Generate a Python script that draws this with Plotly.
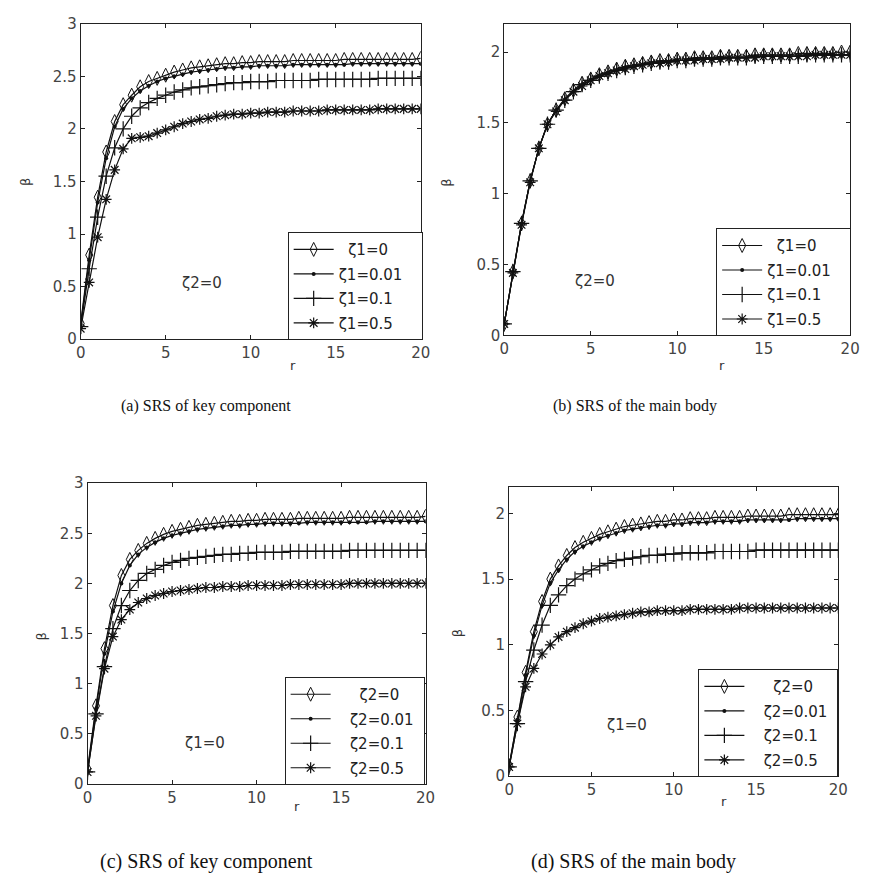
import plotly.graph_objects as go

W, H = 870, 890

r = [0.0, 0.5, 1.0, 1.5, 2.0, 2.5, 3.0, 3.5, 4.0, 4.5,
     5.0, 5.5, 6.0, 6.5, 7.0, 7.5, 8.0, 8.5, 9.0, 9.5,
     10.0, 10.5, 11.0, 11.5, 12.0, 12.5, 13.0, 13.5, 14.0, 14.5,
     15.0, 15.5, 16.0, 16.5, 17.0, 17.5, 18.0, 18.5, 19.0, 19.5,
     20.0]

# (a) SRS of key component, zeta2 = 0
a_z0 = [0.15, 0.80, 1.35, 1.78, 2.07, 2.23, 2.32, 2.40, 2.45, 2.48,
        2.51, 2.54, 2.56, 2.58, 2.59, 2.60, 2.61, 2.62, 2.62, 2.63,
        2.63, 2.64, 2.64, 2.64, 2.64, 2.65, 2.65, 2.65, 2.65, 2.65,
        2.65, 2.66, 2.66, 2.66, 2.66, 2.66, 2.66, 2.66, 2.66, 2.66,
        2.67]
a_z001 = [0.14, 0.75, 1.30, 1.72, 2.02, 2.19, 2.29, 2.36, 2.41, 2.45,
          2.48, 2.50, 2.52, 2.54, 2.55, 2.56, 2.57, 2.58, 2.58, 2.59,
          2.59, 2.60, 2.60, 2.60, 2.60, 2.61, 2.61, 2.61, 2.61, 2.61,
          2.61, 2.61, 2.62, 2.62, 2.62, 2.62, 2.62, 2.62, 2.62, 2.62,
          2.62]
a_z01 = [0.12, 0.67, 1.16, 1.55, 1.82, 2.00, 2.12, 2.20, 2.25, 2.29,
         2.32, 2.35, 2.37, 2.39, 2.40, 2.41, 2.42, 2.43, 2.44, 2.44,
         2.45, 2.45, 2.45, 2.46, 2.46, 2.46, 2.46, 2.46, 2.47, 2.47,
         2.47, 2.47, 2.47, 2.47, 2.47, 2.48, 2.48, 2.48, 2.48, 2.48,
         2.48]
a_z05 = [0.10, 0.54, 0.97, 1.33, 1.61, 1.81, 1.91, 1.92, 1.93, 1.96,
         1.99, 2.02, 2.05, 2.07, 2.09, 2.10, 2.12, 2.13, 2.14, 2.14,
         2.15, 2.15, 2.16, 2.16, 2.16, 2.17, 2.17, 2.17, 2.17, 2.18,
         2.18, 2.18, 2.18, 2.18, 2.18, 2.19, 2.19, 2.19, 2.19, 2.19,
         2.19]

# (b) SRS of the main body, zeta2 = 0
b_z0 = [0.08, 0.45, 0.79, 1.09, 1.32, 1.49, 1.59, 1.67, 1.73, 1.78,
        1.81, 1.84, 1.86, 1.88, 1.90, 1.91, 1.92, 1.93, 1.94, 1.94,
        1.95, 1.95, 1.96, 1.96, 1.96, 1.97, 1.97, 1.97, 1.97, 1.98,
        1.98, 1.98, 1.98, 1.98, 1.99, 1.99, 1.99, 1.99, 1.99, 2.00,
        2.00]
b_z001 = [0.08, 0.45, 0.79, 1.09, 1.32, 1.49, 1.59, 1.66, 1.72, 1.77,
          1.80, 1.83, 1.85, 1.87, 1.89, 1.90, 1.91, 1.92, 1.93, 1.93,
          1.94, 1.94, 1.95, 1.95, 1.95, 1.96, 1.96, 1.96, 1.96, 1.97,
          1.97, 1.97, 1.97, 1.97, 1.97, 1.98, 1.98, 1.98, 1.98, 1.98,
          1.98]
b_z01 = [0.08, 0.45, 0.79, 1.09, 1.32, 1.49, 1.59, 1.66, 1.72, 1.77,
         1.80, 1.83, 1.85, 1.87, 1.89, 1.90, 1.91, 1.92, 1.93, 1.93,
         1.94, 1.94, 1.95, 1.95, 1.95, 1.96, 1.96, 1.96, 1.96, 1.97,
         1.97, 1.97, 1.97, 1.97, 1.97, 1.98, 1.98, 1.98, 1.98, 1.98,
         1.98]
b_z05 = [0.08, 0.44, 0.78, 1.08, 1.32, 1.49, 1.58, 1.66, 1.72, 1.76,
         1.80, 1.83, 1.85, 1.87, 1.88, 1.90, 1.91, 1.92, 1.92, 1.93,
         1.94, 1.94, 1.94, 1.95, 1.95, 1.95, 1.96, 1.96, 1.96, 1.96,
         1.97, 1.97, 1.97, 1.97, 1.97, 1.97, 1.98, 1.98, 1.98, 1.98,
         1.98]

# (c) SRS of key component, zeta1 = 0
c_z0 = [0.15, 0.78, 1.35, 1.78, 2.08, 2.24, 2.33, 2.40, 2.45, 2.49,
        2.52, 2.54, 2.56, 2.58, 2.59, 2.60, 2.61, 2.62, 2.62, 2.63,
        2.63, 2.64, 2.64, 2.64, 2.64, 2.65, 2.65, 2.65, 2.65, 2.65,
        2.65, 2.66, 2.66, 2.66, 2.66, 2.66, 2.66, 2.66, 2.66, 2.66,
        2.67]
c_z001 = [0.13, 0.75, 1.30, 1.72, 2.00, 2.18, 2.29, 2.36, 2.41, 2.45,
          2.48, 2.50, 2.52, 2.54, 2.55, 2.56, 2.57, 2.58, 2.58, 2.59,
          2.59, 2.60, 2.60, 2.60, 2.60, 2.60, 2.61, 2.61, 2.61, 2.61,
          2.61, 2.61, 2.61, 2.61, 2.62, 2.62, 2.62, 2.62, 2.62, 2.62,
          2.62]
c_z01 = [0.12, 0.70, 1.17, 1.55, 1.78, 1.93, 2.03, 2.10, 2.14, 2.18,
         2.21, 2.23, 2.25, 2.26, 2.27, 2.28, 2.29, 2.29, 2.30, 2.30,
         2.31, 2.31, 2.31, 2.31, 2.32, 2.32, 2.32, 2.32, 2.32, 2.32,
         2.32, 2.33, 2.33, 2.33, 2.33, 2.33, 2.33, 2.33, 2.33, 2.33,
         2.33]
c_z05 = [0.12, 0.68, 1.15, 1.47, 1.64, 1.74, 1.81, 1.85, 1.88, 1.90,
         1.92, 1.93, 1.94, 1.95, 1.96, 1.96, 1.97, 1.97, 1.97, 1.98,
         1.98, 1.98, 1.98, 1.98, 1.99, 1.99, 1.99, 1.99, 1.99, 1.99,
         1.99, 2.00, 2.00, 2.00, 2.00, 2.00, 2.00, 2.00, 2.00, 2.00,
         2.00]

# (d) SRS of the main body, zeta1 = 0
d_z0 = [0.08, 0.45, 0.79, 1.10, 1.33, 1.50, 1.60, 1.68, 1.74, 1.78,
        1.81, 1.84, 1.86, 1.88, 1.90, 1.91, 1.92, 1.93, 1.94, 1.94,
        1.95, 1.95, 1.96, 1.96, 1.96, 1.97, 1.97, 1.97, 1.97, 1.98,
        1.98, 1.98, 1.98, 1.98, 1.99, 1.99, 1.99, 1.99, 1.99, 1.99,
        1.99]
d_z001 = [0.08, 0.43, 0.77, 1.07, 1.30, 1.47, 1.57, 1.65, 1.71, 1.75,
          1.78, 1.81, 1.83, 1.85, 1.87, 1.88, 1.89, 1.90, 1.91, 1.91,
          1.92, 1.92, 1.93, 1.93, 1.93, 1.94, 1.94, 1.94, 1.94, 1.95,
          1.95, 1.95, 1.95, 1.95, 1.95, 1.96, 1.96, 1.96, 1.96, 1.96,
          1.96]
d_z01 = [0.07, 0.40, 0.72, 0.96, 1.15, 1.30, 1.38, 1.45, 1.50, 1.54,
         1.57, 1.60, 1.62, 1.64, 1.65, 1.66, 1.67, 1.68, 1.68, 1.69,
         1.69, 1.70, 1.70, 1.70, 1.70, 1.71, 1.71, 1.71, 1.71, 1.71,
         1.72, 1.72, 1.72, 1.72, 1.72, 1.72, 1.72, 1.72, 1.72, 1.72,
         1.72]
d_z05 = [0.07, 0.40, 0.68, 0.82, 0.93, 1.00, 1.06, 1.10, 1.13, 1.16,
         1.18, 1.20, 1.21, 1.22, 1.23, 1.24, 1.25, 1.25, 1.26, 1.26,
         1.26, 1.26, 1.27, 1.27, 1.27, 1.27, 1.27, 1.27, 1.28, 1.28,
         1.28, 1.28, 1.28, 1.28, 1.28, 1.28, 1.28, 1.28, 1.28, 1.28,
         1.28]

NB = "\u00a0"
legend_a = [NB * 2 + "\u03b61=0" + NB * 6, "\u03b61=0.01" + NB * 3,
            "\u03b61=0.1" + NB * 3, "\u03b61=0.5" + NB * 3]
legend_c = [NB * 5 + "\u03b62=0", NB * 3 + "\u03b62=0.01" + NB,
            NB * 3 + "\u03b62=0.1", NB * 3 + "\u03b62=0.5"]
captions = ["(a) SRS of key component", "(b) SRS of the main body",
            "(c) SRS of key component", "(d) SRS of the main body"]
inner_labels = ["\u03b62=0", "\u03b62=0", "\u03b61=0", "\u03b61=0"]

markers = [dict(symbol="diamond-tall-open", size=10, line=dict(width=1, color="#111")),
           dict(symbol="circle", size=4, color="#111"),
           dict(symbol="cross-thin-open", size=11, line=dict(width=1.2, color="#111")),
           dict(symbol="asterisk-open", size=9, line=dict(width=1.2, color="#111"))]

panels = [
    dict(series=[a_z0, a_z001, a_z01, a_z05], names=legend_a, box=(77, 423, 15, 337), ymax=3.0,
         yt=[0, 0.5, 1, 1.5, 2, 2.5, 3], leg=(425, 338), txt=(200, 280), beta=(21, 177),
         rr=(293, 364), cap=(205, 405, 16)),
    dict(series=[b_z0, b_z001, b_z01, b_z05], names=legend_a, box=(508, 860, 15, 333), ymax=2.2,
         yt=[0, 0.5, 1, 1.5, 2], leg=(861, 334), txt=(600, 278), beta=(449, 177),
         rr=(730, 364), cap=(641, 405, 16)),
    dict(series=[c_z0, c_z001, c_z01, c_z05], names=legend_c, box=(84, 428, 484, 791), ymax=3.0,
         yt=[0, 0.5, 1, 1.5, 2, 2.5, 3], leg=(427, 792), txt=(204, 749), beta=(37, 640),
         rr=(297, 814), cap=(205, 870, 20)),
    dict(series=[d_z0, d_z001, d_z01, d_z05], names=legend_c, box=(513, 848, 488, 783), ymax=2.2,
         yt=[0, 0.5, 1, 1.5, 2], leg=(848, 784), txt=(633, 731), beta=(460, 637),
         rr=(732, 809), cap=(640, 870, 20)),
]

SANS = "DejaVu Sans, Liberation Sans, Arial, sans-serif"
fig = go.Figure()
layout = dict(width=W, height=H, margin=dict(l=0, r=0, t=0, b=0),
              paper_bgcolor="white", plot_bgcolor="white", showlegend=True)
annotations = []
tickfont = dict(family=SANS, size=15, color="#444")

for i, p in enumerate(panels):
    k = "" if i == 0 else str(i + 1)
    leg = "legend" + k
    x0, x1, y0, y1 = p["box"]
    for j, (ys, nm) in enumerate(zip(p["series"], p["names"])):
        fig.add_trace(go.Scatter(
            x=r, y=ys, mode="lines+markers", name=nm,
            line=dict(color="#111", width=1.2), marker=markers[j],
            xaxis="x" + k, yaxis="y" + k, legend=leg,
            legendgroup=f"g{i}_{j}", showlegend=True))
    common = dict(showline=True, linecolor="#222", linewidth=1, mirror="ticks",
                  ticks="inside", ticklen=4, tickcolor="#222", showgrid=False,
                  zeroline=False, tickfont=tickfont)
    layout["xaxis" + k] = dict(domain=[x0 / W, x1 / W], anchor="y" + k, range=[0, 20],
                               tickvals=[0, 5, 10, 15, 20], **common)
    layout["yaxis" + k] = dict(domain=[1 - y1 / H, 1 - y0 / H], anchor="x" + k,
                               range=[0, p["ymax"]], tickvals=p["yt"],
                               ticktext=[("%g" % v) for v in p["yt"]], **common)
    lx, ly = p["leg"]
    layout[leg] = dict(x=lx / W, y=1 - ly / H, xanchor="right", yanchor="bottom",
                       bordercolor="#222", borderwidth=1, bgcolor="white",
                       font=dict(family=SANS, size=15, color="#222"),
                       tracegroupgap=2, itemwidth=40)
    tx, ty = p["txt"]
    annotations.append(dict(x=tx / W, y=1 - ty / H, xref="paper", yref="paper",
                            xanchor="center", yanchor="middle",
                            text=inner_labels[i], showarrow=False,
                            font=dict(family=SANS, size=15, color="#333")))
    bx, by = p["beta"]
    annotations.append(dict(x=bx / W, y=1 - by / H, xref="paper", yref="paper",
                            xanchor="center", yanchor="middle",
                            text="\u03b2", showarrow=False, textangle=-90,
                            font=dict(family=SANS, size=13, color="#333")))
    rx, ry = p["rr"]
    annotations.append(dict(x=rx / W, y=1 - ry / H, xref="paper", yref="paper",
                            xanchor="center", yanchor="middle",
                            text="r", showarrow=False,
                            font=dict(family=SANS, size=13, color="#333")))
    cx, cy, cs = p["cap"]
    annotations.append(dict(x=cx / W, y=1 - cy / H, xref="paper", yref="paper",
                            xanchor="center", yanchor="middle",
                            text=captions[i], showarrow=False,
                            font=dict(family="Liberation Serif, Times New Roman, serif", size=cs, color="#111")))

layout["annotations"] = annotations
fig.update_layout(**layout)
fig.write_html("out.html")
